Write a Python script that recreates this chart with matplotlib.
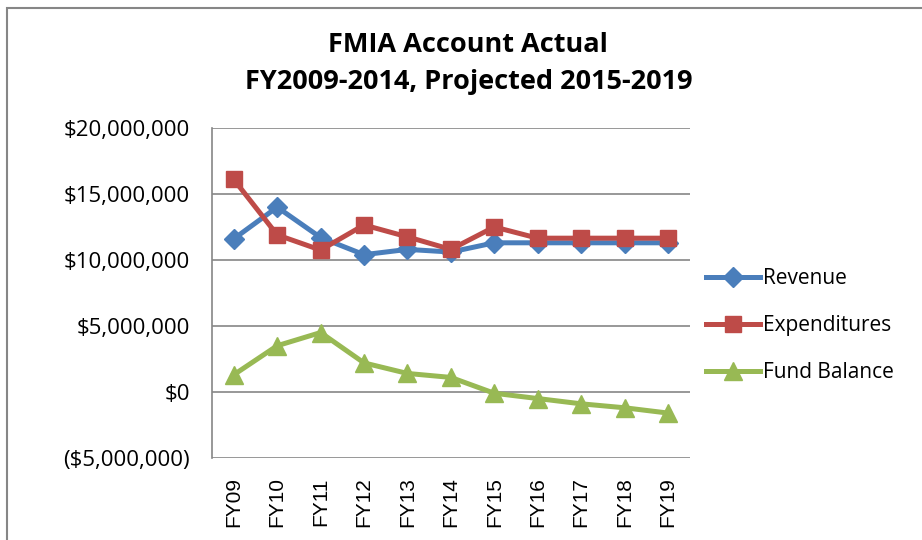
import matplotlib as mpl
mpl.use("Agg")
import matplotlib.pyplot as plt
from matplotlib.ticker import FuncFormatter
from matplotlib.patches import Rectangle

years = ['FY09', 'FY10', 'FY11', 'FY12', 'FY13', 'FY14', 'FY15', 'FY16', 'FY17', 'FY18', 'FY19']
revenue = [11.6e6, 14.0e6, 11.7e6, 10.4e6, 10.8e6, 10.6e6, 11.3e6, 11.3e6, 11.3e6, 11.3e6, 11.3e6]
expenditures = [16.1e6, 11.9e6, 10.75e6, 12.65e6, 11.75e6, 10.8e6, 12.5e6, 11.65e6, 11.65e6, 11.65e6, 11.65e6]
fund_balance = [1.3e6, 3.5e6, 4.5e6, 2.2e6, 1.4e6, 1.1e6, -0.1e6, -0.5e6, -0.9e6, -1.2e6, -1.6e6]

plt.rcParams['font.family'] = ['Open Sans', 'DejaVu Sans']

fig = plt.figure(figsize=(9.22, 5.4), dpi=100)
ax = fig.add_axes([0.230, 0.152, 0.518, 0.611])

x = range(len(years))
ax.plot(x, revenue, color='#4a7ebb', lw=3.6, marker='D', ms=10, label='Revenue')
ax.plot(x, expenditures, color='#be4b48', lw=3.6, marker='s', ms=12, label='Expenditures')
ax.plot(x, fund_balance, color='#98b954', lw=3.6, marker='^', ms=13, label='Fund Balance')

ax.set_ylim(-5e6, 20e6)
ax.set_yticks([-5e6, 0, 5e6, 10e6, 15e6, 20e6])
def money(v, pos):
    if v < 0:
        return '(${:,.0f})'.format(-v)
    return '${:,.0f}'.format(v)
ax.yaxis.set_major_formatter(FuncFormatter(money))
ax.set_xlim(-0.5, len(years) - 0.5)
ax.set_xticks(list(x))
ax.set_xticklabels(years, rotation=90, family=['Liberation Sans', 'DejaVu Sans'], fontsize=15)
ax.tick_params(axis='y', labelsize=16, length=0, pad=16)
ax.tick_params(axis='x', length=0, pad=14)

ax.grid(axis='y', color='#868686', lw=1.2)
ax.set_axisbelow(True)
for s in ['top', 'right', 'bottom']:
    ax.spines[s].set_visible(False)
ax.spines['left'].set_color('#868686')
ax.spines['left'].set_linewidth(1.2)

fig.suptitle('FMIA Account Actual\nFY2009-2014, Projected 2015-2019',
             x=0.508, y=0.94, fontsize=19.5, fontweight='bold', linespacing=1.55)

ax.legend(loc='center left', bbox_to_anchor=(0.995, 0.40), frameon=False,
          fontsize=15, handlelength=2.6, labelspacing=1.25, handletextpad=0.15)

fig.patches.append(Rectangle((0.0076, -0.05), 1.1, 1.036, transform=fig.transFigure,
                             fill=False, edgecolor='#868686', lw=1.5))

plt.savefig('out.png', dpi=100)
